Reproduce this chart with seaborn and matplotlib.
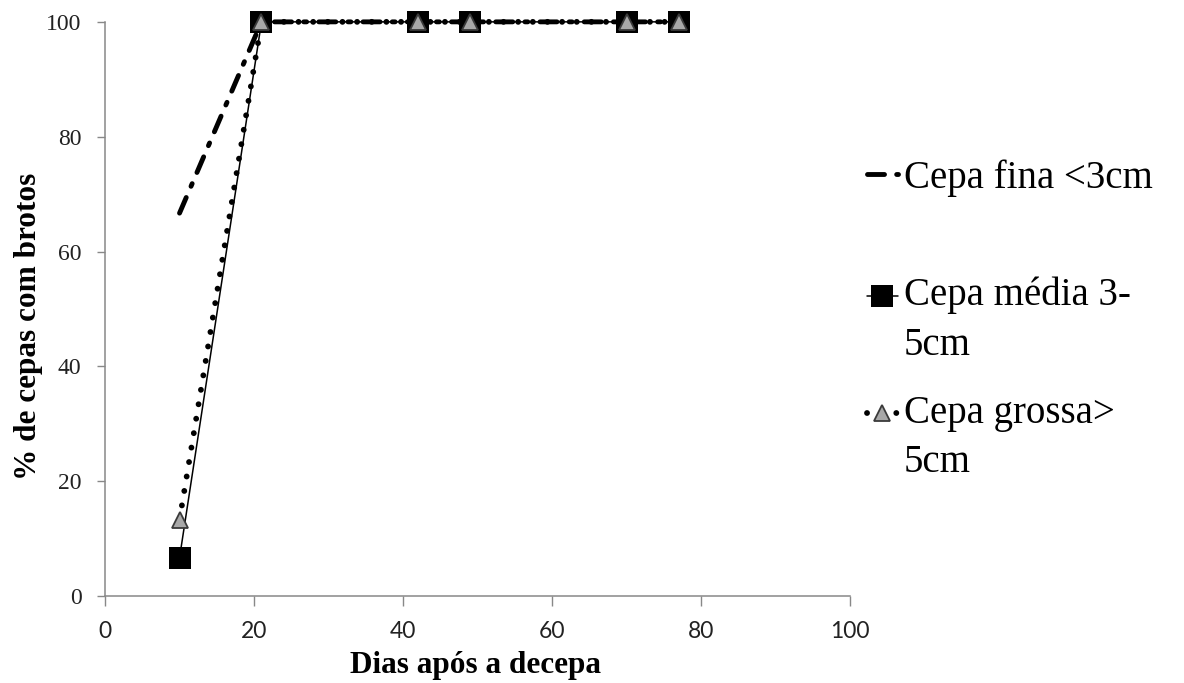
import matplotlib
matplotlib.use("Agg")
import numpy as np
import matplotlib.pyplot as plt
from matplotlib.legend_handler import HandlerLine2D
import seaborn as sns
import pandas as pd

# Days after cutting and percentage of stumps with sprouts, per stump class
dias = [10, 21, 42, 49, 70, 77]
cepa_fina = [66.7, 100, 100, 100, 100, 100]
cepa_media = [6.7, 100, 100, 100, 100, 100]
cepa_grossa = [13.3, 100, 100, 100, 100, 100]
rotulos = ["Cepa fina <3cm", "Cepa média 3-\n5cm", "Cepa grossa>\n5cm"]

sns.set_theme(style="white")
plt.rcParams["font.family"] = ["Liberation Serif", "DejaVu Serif"]

fig = plt.figure(figsize=(11.84, 6.83), dpi=100)
ax = fig.add_axes([0.0887, 0.127, 0.6293, 0.841])

df = pd.DataFrame({"dias": dias, "fina": cepa_fina, "media": cepa_media, "grossa": cepa_grossa})

# thick dash-dot line
sns.lineplot(data=df, x="dias", y="fina", ax=ax, color="black", linewidth=3.5, clip_on=False)
l_fina = ax.lines[-1]
l_fina.set_linestyle((0, (3.5, 2.5, 0.6, 2.5)))
l_fina.set_dash_capstyle("round")

# thin solid line with big squares
sns.lineplot(data=df, x="dias", y="media", ax=ax, color="black", linewidth=1.1,
             marker="s", markersize=15.5, markeredgewidth=0, clip_on=False)
l_media = ax.lines[-1]

# round-dotted line with grey triangles
sns.lineplot(data=df, x="dias", y="grossa", ax=ax, color="black", linewidth=4.2,
             marker="^", markersize=12, markerfacecolor="#a8a8a8",
             markeredgecolor="#3a3a3a", markeredgewidth=1.3, clip_on=False)
l_grossa = ax.lines[-1]
l_grossa.set_linestyle((0, (0.01, 2.5)))
l_grossa.set_dash_capstyle("round")

ax.set_xlim(0, 100)
ax.set_ylim(0, 100)
ax.set_xticks(range(0, 101, 20))
ax.set_yticks(range(0, 101, 20))
ax.tick_params(axis="x", labelsize=16.5, labelcolor="#222222", direction="out",
               length=7, width=1, bottom=True, color="#888888", pad=11)
ax.tick_params(axis="y", labelsize=17, labelcolor="#222222", direction="out",
               length=6, width=1, left=True, color="#888888", pad=11)
for t in ax.get_xticklabels():
    t.set_fontfamily(["Lato", "DejaVu Sans"])
for s in ["top", "right"]:
    ax.spines[s].set_visible(False)
for s in ["left", "bottom"]:
    ax.spines[s].set_color("#888888")
    ax.spines[s].set_linewidth(1.1)

ax.set_xlabel("Dias após a decepa", fontsize=22.5, fontweight="bold", color="black")
ax.set_ylabel("% de cepas com brotos", fontsize=22.5, fontweight="bold", color="black")
ax.xaxis.set_label_coords(0.497, -0.095)
ax.yaxis.set_label_coords(-0.083, 0.469)


class HandlerPrimeiraLinha(HandlerLine2D):
    """Line handler that sits level with the first line of a two-line label."""

    def __init__(self, desloc=0.0, **kw):
        super().__init__(**kw)
        self.desloc = desloc

    def create_artists(self, legend, orig_handle, xdescent, ydescent, width, height,
                       fontsize, trans):
        artists = super().create_artists(legend, orig_handle, xdescent, ydescent,
                                         width, height, fontsize, trans)
        for a in artists:
            a.set_ydata(np.asarray(a.get_ydata(), dtype=float) + self.desloc)
        return artists


entradas = [
    (l_fina, rotulos[0], 0.739, 0.0),
    (l_media, rotulos[1], 0.531, 18.0),
    (l_grossa, rotulos[2], 0.359, 18.0),
]
for linha, rotulo, ypos, desloc in entradas:
    leg = fig.legend([linha], [rotulo], loc="center left", bbox_to_anchor=(0.732, ypos),
                     frameon=False, fontsize=28, handlelength=0.8, handletextpad=0.15,
                     borderpad=0, borderaxespad=0,
                     handler_map={linha: HandlerPrimeiraLinha(desloc=desloc)})
    for t in leg.get_texts():
        t.set_color("black")
        t.set_linespacing(1.45)

fig.savefig("out.png", dpi=100)
